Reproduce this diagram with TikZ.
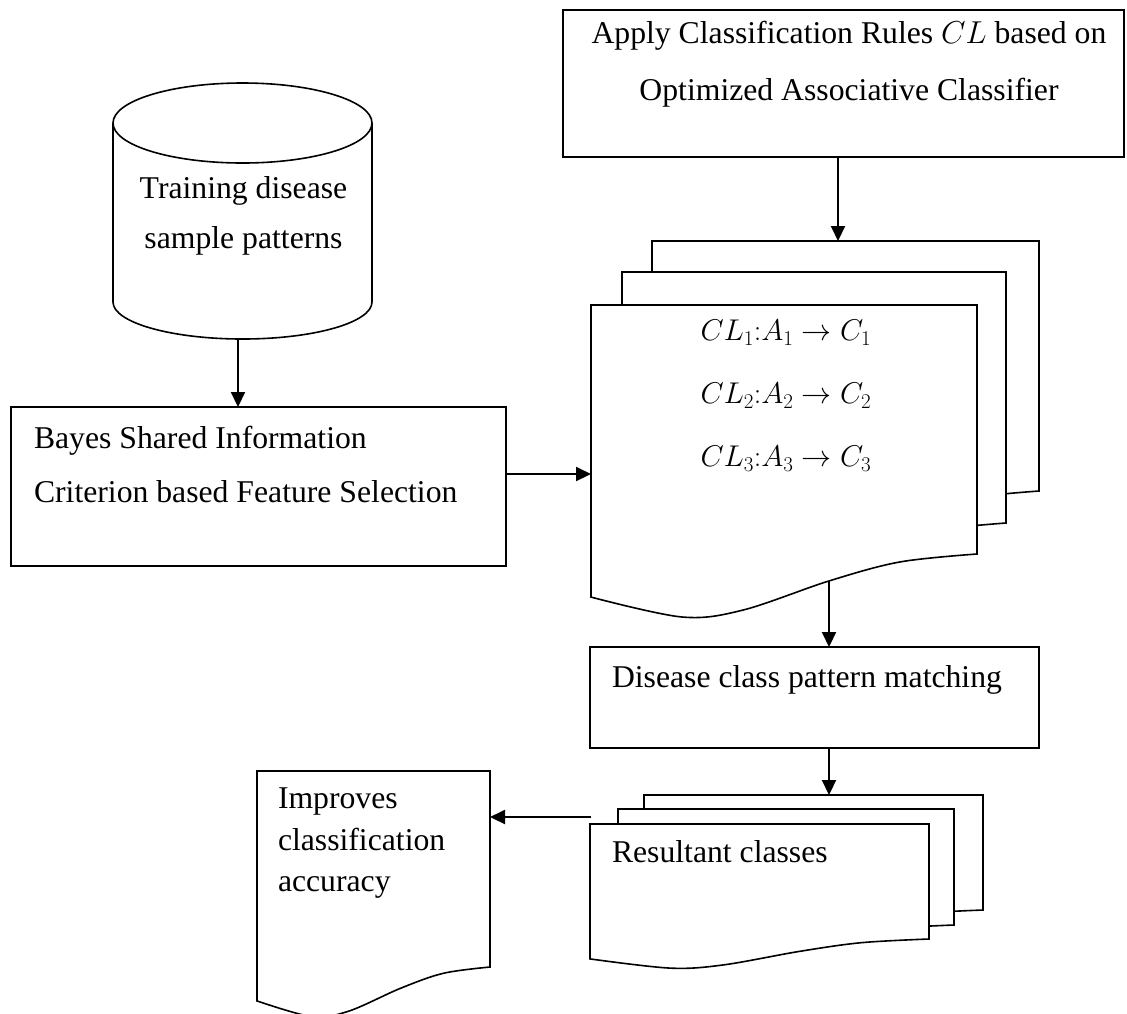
\RequirePackage{fix-cm}
\documentclass[tikz,border=0pt]{standalone}
\usepackage{fontspec}
\setmainfont{Liberation Serif}
\usetikzlibrary{arrows.meta,calc}

% Flow-chart "document" sheet with a wavy bottom edge.
% #1 name, #2 left x, #3 top y, #4 right x, #5 height of the right edge
\newcommand\flowdoc[5]{%
  \draw[outline, fill=white] (#2,#3) -- (#4,#3) -- (#4,{#3+#5})
    -- plot[smooth, tension=0.55] coordinates {
      (#4,{#3+#5})
      ({#2+0.80*(#4-#2)},{#3+1.032*#5})
      ({#2+0.617*(#4-#2)},{#3+1.108*#5})
      ({#2+0.394*(#4-#2)},{#3+1.225*#5})
      ({#2+0.236*(#4-#2)},{#3+1.253*#5})
      (#2,{#3+1.173*#5})}
    -- cycle;
  \node[anchor=north west, inner sep=0pt, outer sep=0pt,
        minimum width={(#4-#2)*1pt}, minimum height={#5*1pt}] (#1) at (#2,#3) {};
}

\begin{document}
\begin{tikzpicture}[x=1pt, y=-1pt,
  outline/.style={draw, line width=1.6pt, line join=miter},
  box/.style={outline, fill=white, inner sep=0pt, outer sep=0pt},
  txt/.style={inner sep=0pt, outer sep=0pt},
  arr/.style={line width=2.1pt, -{Triangle[length=15pt, width=14pt]}}]

\useasboundingbox (0,0) rectangle (1127,1013);

% ---- rule application box
\node[box, minimum width=561pt, minimum height=147pt] (apply) at (843.5,83.5) {};
\node[txt, anchor=north, align=center, font=\fontsize{31.7}{57}\selectfont] (applytext)
  at (849,21) {Apply Classification Rules $CL$ based on\\Optimized Associative Classifier};

% ---- training database (cylinder)
\node[txt, minimum width=259pt, minimum height=256pt] (db) at (242.5,211) {};
\draw[outline, fill=white] (113,123) -- (113,302)
  arc[start angle=180, end angle=360, x radius=129.5pt, y radius=37pt] -- (372,123);
\draw[outline] (242.5,123) ellipse [x radius=129.5pt, y radius=40pt];
\node[txt, anchor=north, align=center, font=\fontsize{31.7}{50}\selectfont] (dbtext)
  at (243.5,176) {Training disease\\sample patterns};

% ---- feature selection box
\node[box, minimum width=495pt, minimum height=159pt] (bayes) at (258.5,486.5) {};
\node[txt, anchor=north west, align=left, font=\fontsize{31.7}{54}\selectfont] (bayestext)
  at (34,426) {Bayes Shared Information\\Criterion based Feature Selection};

% ---- stack of classification rules
\flowdoc{rb}{652}{241}{1039}{250}
\flowdoc{rm}{622}{272}{1006}{251}
\flowdoc{rf}{591}{305}{977}{249}
\node[txt, anchor=north, align=center, font=\fontsize{30}{63}\selectfont] (rulestext)
  at (786,320) {$CL_1{:}A_1\to C_1$\\$CL_2{:}A_2\to C_2$\\$CL_3{:}A_3\to C_3$};

% ---- pattern matching box
\node[box, minimum width=449pt, minimum height=101pt] (disease) at (814.5,697.5) {};
\node[txt, anchor=north west, font=\fontsize{31.7}{38}\selectfont] (diseasetext)
  at (612,665) {Disease class pattern matching};

% ---- stack of resultant classes
\flowdoc{cb}{644}{795}{983}{115}
\flowdoc{cm}{618}{809}{954}{116}
\flowdoc{cf}{590}{824}{929}{115}
\node[txt, anchor=north west, font=\fontsize{31.7}{38}\selectfont] (restext)
  at (612,840) {Resultant classes};

% ---- outcome sheet
\flowdoc{acc}{257}{771}{490}{196}
\node[txt, anchor=north west, align=left, font=\fontsize{31.7}{41.5}\selectfont] (acctext)
  at (278,788) {Improves\\classification\\accuracy};

% ---- connectors
\coordinate (rfout) at (829,581);
\coordinate (resout) at (591,817);
\draw[arr] ([xshift=-5.5pt]apply.south) -- ([xshift=-5.5pt]apply.south |- rb.north);
\draw[arr] ([xshift=-4.5pt]db.south) -- ([xshift=-4.5pt]db.south |- bayes.north);
\draw[arr] ([yshift=12.5pt]bayes.east) -- ([yshift=12.5pt]bayes.east -| rf.west);
\draw[arr] (rfout) -- (rfout |- disease.north);
\draw[arr] ([xshift=14.5pt]disease.south) -- ([xshift=14.5pt]disease.south |- cb.north);
\draw[arr] (resout) -- (resout -| acc.east);

\end{tikzpicture}
\end{document}
